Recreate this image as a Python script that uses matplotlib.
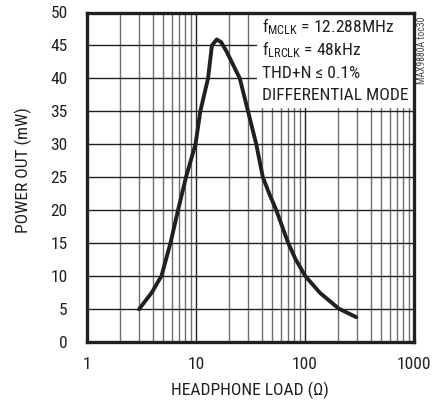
import matplotlib
matplotlib.use("Agg")
import matplotlib.pyplot as plt
from matplotlib.ticker import FixedLocator, NullFormatter

load_ohm = [3.0, 3.95, 4.83, 5.84, 6.85, 8.1, 9.9, 10.96, 12.9, 14.0, 15.5, 17.0, 18.9, 25.2, 30.0, 35.7, 41.0, 46.9, 54.4, 70.0, 82.0, 100.0, 137.0, 204.0, 295.0]
power_mw = [4.9, 7.5, 10.0, 15.0, 20.0, 25.0, 30.0, 35.0, 40.0, 45.0, 45.9, 45.5, 44.2, 40.0, 35.0, 30.0, 25.0, 22.5, 20.0, 15.0, 12.5, 10.0, 7.4, 5.0, 3.7]
xticks = [1, 10, 100, 1000]
xticklabels = ["1", "10", "100", "1000"]
yticks = list(range(0, 51, 5))
legend_lines = [r"f$_{\mathregular{MCLK}}$ = 12.288MHz", r"f$_{\mathregular{LRCLK}}$ = 48kHz", "THD+N ≤ 0.1%", "DIFFERENTIAL MODE"]

FONT = 'Roboto Condensed'
plt.rcParams['font.family'] = [FONT, 'DejaVu Sans']
plt.rcParams['mathtext.fontset'] = 'custom'
plt.rcParams['mathtext.rm'] = FONT
plt.rcParams['mathtext.it'] = FONT
plt.rcParams['mathtext.bf'] = FONT

TXT = '#231f20'
W, H = 443, 401
fig = plt.figure(figsize=(W / 100, H / 100), dpi=100)
L, R, T, B = 87, 414, 12.5, 341.5
ax = fig.add_axes([L / W, 1 - B / H, (R - L) / W, (B - T) / H])
ax.set_xscale('log')
ax.set_xlim(1, 1000)
ax.set_ylim(0, 50)

minor = [m * 10**d for d in range(0, 3) for m in range(2, 10)]
ax.xaxis.set_minor_locator(FixedLocator(minor))
ax.xaxis.set_minor_formatter(NullFormatter())
ax.set_xticks(xticks)
ax.set_xticklabels(xticklabels)
ax.set_yticks(yticks)
ax.grid(which='major', axis='both', color='#231f20', lw=1.0)
ax.grid(which='minor', axis='x', color='#6d6d6d', lw=1.0)
ax.tick_params(axis='both', which='both', length=0, labelsize=12.5, colors=TXT)
ax.tick_params(axis='y', pad=14)
ax.tick_params(axis='x', pad=11)

for s in ax.spines.values():
    s.set_linewidth(2.4)
    s.set_color(TXT)

ax.plot(load_ohm, power_mw, color=TXT, lw=2.8, solid_capstyle='round', solid_joinstyle='round', zorder=3)

# white note box
box_left = 257
ax.axvspan(10 ** (3 * (box_left - L) / (R - L)), 1000, ymin=1 - (108 - T) / (B - T), ymax=1,
           facecolor='white', edgecolor='none', zorder=2.5)
ys = [27, 50, 73, 96]
for s, y in zip(legend_lines, ys):
    fig.text(262 / W, 1 - y / H, s, ha='left', va='center', fontsize=12.6, color=TXT)

fig.text(250 / W, 1 - 390 / H, "HEADPHONE LOAD (Ω)", ha='center', va='center', fontsize=12.5, color=TXT)
fig.text(23 / W, 1 - 170 / H, "POWER OUT (mW)", ha='center', va='center', rotation=90, fontsize=12.5, color=TXT)

fig.text(422 / W, 1 - 50 / H, "MAX9880A toc30", rotation=90, fontsize=7, color='#444444', ha='center', va='center')

fig.savefig("out.png", dpi=100)
